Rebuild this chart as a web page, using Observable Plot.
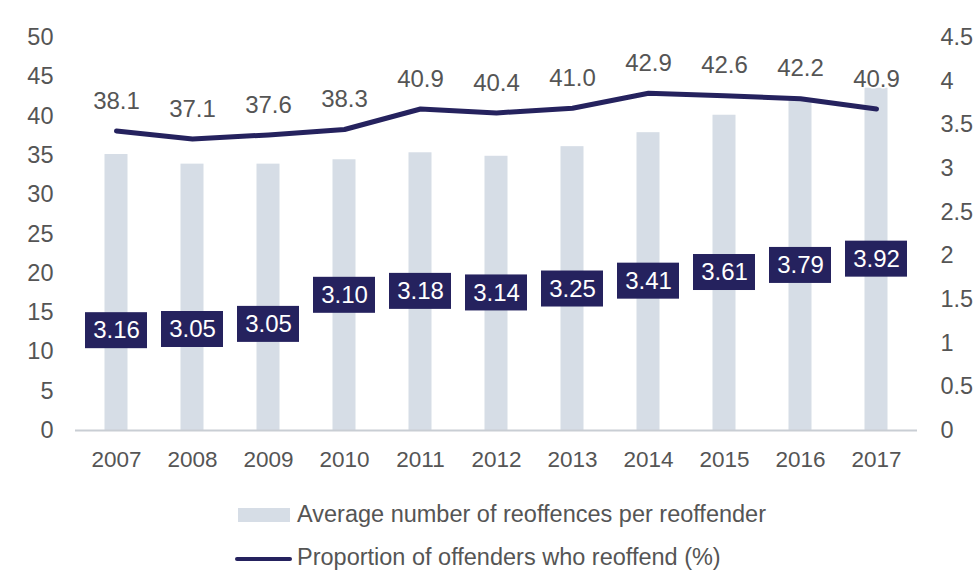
<!DOCTYPE html>
<html>
<head>
<meta charset="utf-8">
<script src="https://cdn.jsdelivr.net/npm/d3@7"></script>
<script src="https://cdn.jsdelivr.net/npm/@observablehq/plot@0.6"></script>
<style>
  html, body { margin: 0; padding: 0; background: #ffffff; }
  body { width: 977px; height: 571px; position: relative; overflow: hidden;
         font-family: "Liberation Sans", Arial, Helvetica, sans-serif; color: #555; }
  #chart { position: absolute; left: 0; top: 0; }
  .lg-text { position: absolute; left: 297px; font-size: 23.5px; line-height: 24px; color: #555; white-space: nowrap; }
  .lg-patch { position: absolute; }
</style>
</head>
<body>
<div id="chart"></div>
<div class="lg-patch" style="left:238px; top:508px; width:52px; height:14px; background:#d6dde6;"></div>
<div class="lg-text" style="top:502px;">Average number of reoffences per reoffender</div>
<div class="lg-patch" style="left:235px; top:557px; width:57px; height:4px; border-radius:2px; background:#25225e;"></div>
<div class="lg-text" style="top:545px;">Proportion of offenders who reoffend (%)</div>
<script>
const years = ["2007", "2008", "2009", "2010", "2011", "2012", "2013", "2014", "2015", "2016", "2017"];
const proportionReoffend = [38.1, 37.1, 37.6, 38.3, 40.9, 40.4, 41.0, 42.9, 42.6, 42.2, 40.9];
const avgReoffences = [3.16, 3.05, 3.05, 3.10, 3.18, 3.14, 3.25, 3.41, 3.61, 3.79, 3.92];
// vertical anchor of each navy value box, in left-axis units
const boxLevel = [12.7, 12.85, 13.5, 17.2, 17.7, 17.5, 18.0, 19.0, 20.1, 21.0, 21.8];
const leftTicks = [0, 5, 10, 15, 20, 25, 30, 35, 40, 45, 50];
const rightTicks = [0, 0.5, 1, 1.5, 2, 2.5, 3, 3.5, 4, 4.5];

const leftMax = 50, rightMax = 4.5;
const k = leftMax / rightMax;

const data = years.map((year, i) => ({
  year,
  prop: proportionReoffend[i],
  avg: avgReoffences[i],
  level: boxLevel[i]
}));

const navy = "#25225e";
const barFill = "#d6dde6";
const textGray = "#555555";

const chart = Plot.plot({
  width: 977,
  height: 490,
  marginLeft: 75,
  marginRight: 60,
  marginTop: 37,
  marginBottom: 60,
  style: { fontFamily: "'Liberation Sans', Arial, Helvetica, sans-serif", fontSize: "22px", color: textGray, background: "transparent", overflow: "visible" },
  x: { domain: years, padding: 0, label: null },
  y: { domain: [0, leftMax], label: null },
  marks: [
    Plot.barY(data, { x: "year", y: d => d.avg * k, fill: barFill, insetLeft: 26.5, insetRight: 26.5 }),
    Plot.ruleY([0], { stroke: "#c9ced4", strokeWidth: 2 }),
    Plot.axisY(leftTicks, { anchor: "left", tickSize: 0, tickPadding: 22, label: null, fill: textGray, fontSize: 23.5 }),
    Plot.axisY(rightTicks.map(v => v * k), { anchor: "right", tickSize: 0, tickPadding: 23, label: null, fill: textGray, fontSize: 23.5,
      tickFormat: d => String(+(d / k).toFixed(2)) }),
    Plot.axisX(years, { tickSize: 0, tickPadding: 21, label: null, fill: textGray, fontSize: 22.5 }),
    Plot.line(data, { x: "year", y: "prop", stroke: navy, strokeWidth: 5, strokeLinecap: "round", strokeLinejoin: "round" }),
    Plot.text(data, { x: "year", y: "prop", text: d => d.prop.toFixed(1), dy: -30, fill: textGray, stroke: "white", strokeWidth: 3, fontSize: 24 }),
    Plot.barY(data, { x: "year", y1: d => d.level - 2.29, y2: d => d.level + 2.29, fill: navy, insetLeft: 7, insetRight: 7 }),
    Plot.text(data, { x: "year", y: "level", text: d => d.avg.toFixed(2), fill: "white", fontSize: 24 })
  ]
});
document.getElementById("chart").appendChild(chart);
</script>
</body>
</html>
